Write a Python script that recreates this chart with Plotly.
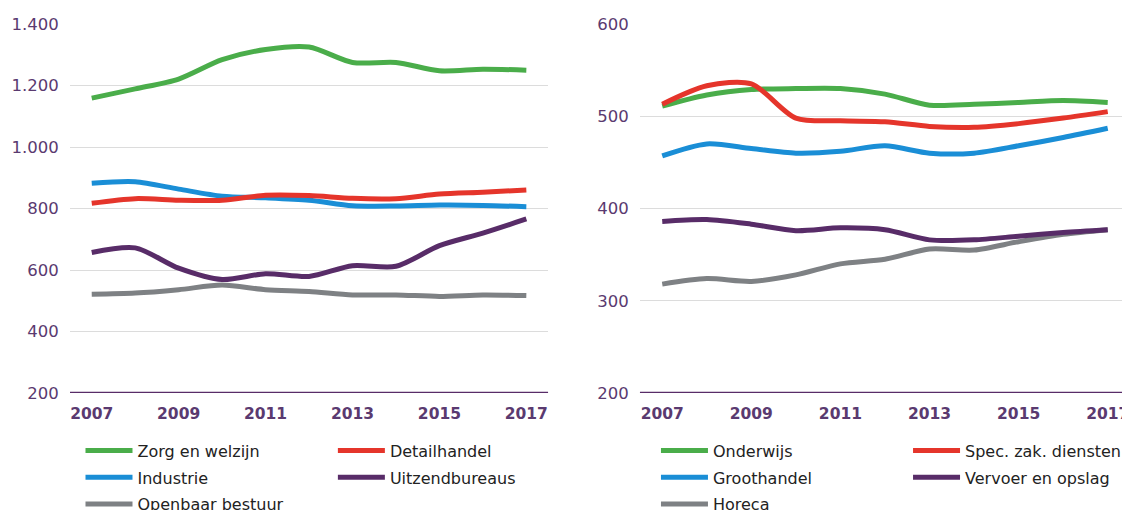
import plotly.graph_objects as go

years = list(range(2007, 2018))

# left panel
zorg = [1159, 1189, 1221, 1284, 1317, 1325, 1275, 1275, 1248, 1253, 1250]
detailhandel = [817, 832, 827, 827, 843, 842, 833, 832, 847, 853, 860]
industrie = [882, 887, 863, 840, 835, 827, 809, 808, 811, 810, 806]
uitzend = [657, 672, 606, 569, 588, 579, 614, 612, 679, 720, 766]
openbaar = [521, 525, 536, 551, 536, 530, 519, 519, 514, 519, 517]

# right panel
onderwijs = [511, 523, 529, 530, 530, 524, 512, 513, 515, 517, 515]
spec_zak = [513, 533, 535, 498, 495, 494, 489, 488, 492, 498, 505]
groothandel = [457, 470, 465, 460, 462, 468, 460, 460, 468, 477, 487]
vervoer = [386, 388, 383, 376, 379, 377, 366, 366, 370, 374, 377]
horeca = [318, 324, 321, 328, 340, 345, 356, 355, 364, 372, 377]

GREEN = "#4aad4a"
RED = "#e5352b"
BLUE = "#1a8ed6"
PURPLE = "#582c68"
GRAY = "#7e8184"
TXT = "#5a3a70"

series = [
    ("Zorg en welzijn", zorg, GREEN, "x", "y", "legend"),
    ("Industrie", industrie, BLUE, "x", "y", "legend"),
    ("Openbaar bestuur", openbaar, GRAY, "x", "y", "legend"),
    ("Detailhandel", detailhandel, RED, "x", "y", "legend2"),
    ("Uitzendbureaus", uitzend, PURPLE, "x", "y", "legend2"),
    ("Onderwijs", onderwijs, GREEN, "x2", "y2", "legend3"),
    ("Groothandel", groothandel, BLUE, "x2", "y2", "legend3"),
    ("Horeca", horeca, GRAY, "x2", "y2", "legend3"),
    ("Spec. zak. diensten", spec_zak, RED, "x2", "y2", "legend4"),
    ("Vervoer en opslag", vervoer, PURPLE, "x2", "y2", "legend4"),
]

fig = go.Figure()
for name, vals, col, xa, ya, leg in series:
    fig.add_trace(go.Scatter(
        x=years, y=vals, name=name, mode="lines",
        line=dict(color=col, width=5, shape="spline", smoothing=0.8),
        xaxis=xa, yaxis=ya, legend=leg, legendgroup=name,
    ))

xcommon = dict(
    range=[2006.5, 2017.5], tickvals=list(range(2007, 2018, 2)),
    showgrid=False, zeroline=False, showline=False,
    ticks="outside", ticklen=6, tickcolor="rgba(0,0,0,0)",
    ticklabeloverflow="allow",
    tickfont=dict(family="DejaVu Sans", size=15.5, color=TXT, weight="bold"),
)
ycommon = dict(
    showgrid=True, gridcolor="#dcdcdc", gridwidth=1, zeroline=False,
    showline=False, ticks="outside", ticklen=7, tickcolor="rgba(0,0,0,0)",
    tickfont=dict(family="DejaVu Sans", size=16.5, color=TXT),
    separatethousands=True,
)

legcommon = dict(
    orientation="v", xanchor="left", yanchor="top", y=-0.11,
    font=dict(family="DejaVu Sans", size=16, color="#222222"),
    tracegroupgap=3, bgcolor="rgba(0,0,0,0)", itemwidth=47,
)

# page body adds an 8px offset, so the figure is sized to the remaining viewport
fig.update_layout(
    width=1122, height=502,
    margin=dict(l=62, r=0, t=16, b=117, autoexpand=False),
    plot_bgcolor="white", paper_bgcolor="white",
    separators=",.",
    showlegend=True,
    xaxis=dict(domain=[0, 0.451], anchor="y", **xcommon),
    yaxis=dict(domain=[0, 1], range=[200, 1400], dtick=200, anchor="x", **ycommon),
    xaxis2=dict(domain=[0.5377, 1], anchor="y2", **xcommon),
    yaxis2=dict(domain=[0, 1], range=[200, 600], dtick=100, anchor="x2", **ycommon),
    legend=dict(x=0.0099, **legcommon),
    legend2=dict(x=0.248, **legcommon),
    legend3=dict(x=0.5528, **legcommon),
    legend4=dict(x=0.7906, **legcommon),
)

# baseline at 200
fig.add_shape(type="line", xref="x domain", yref="y", x0=0, x1=1, y0=200, y1=200,
              line=dict(color=PURPLE, width=2.5))
fig.add_shape(type="line", xref="x2 domain", yref="y2", x0=0, x1=1, y0=200, y1=200,
              line=dict(color=PURPLE, width=2.5))

fig.write_html("out.html")
